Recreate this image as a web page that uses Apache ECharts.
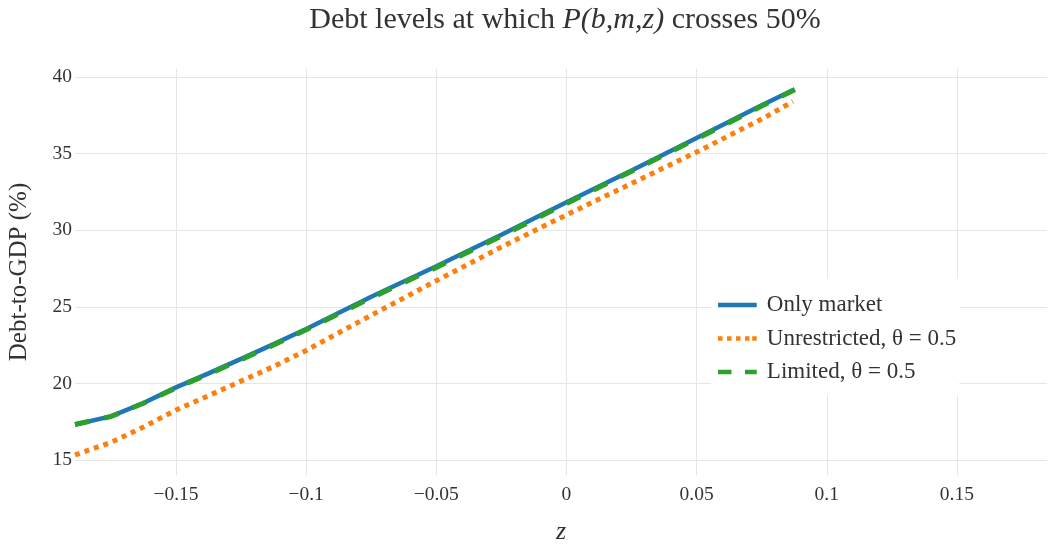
<!DOCTYPE html>
<html>
<head>
<meta charset="utf-8">
<script src="https://cdn.jsdelivr.net/npm/echarts@6/dist/echarts.min.js"></script>
<style>
  html, body { margin: 0; padding: 0; background: #fff; }
  #chart { width: 1049px; height: 544px; }
</style>
</head>
<body>
<div id="chart"></div>
<script>
// z values and debt-to-GDP levels (%)
const zOnlyMarket = [-0.1888, -0.175, -0.1625, -0.15, -0.1375, -0.125, -0.1125, -0.1, -0.075, -0.05, -0.025, 0, 0.025, 0.05, 0.075, 0.0877];
const onlyMarket = [17.32, 17.85, 18.72, 19.74, 20.65, 21.6, 22.56, 23.55, 25.65, 27.65, 29.7, 31.82, 33.9, 36.02, 38.15, 39.2];

const zUnrestricted = [-0.1888, -0.175, -0.1625, -0.15, -0.1375, -0.125, -0.1125, -0.1, -0.075, -0.05, -0.025, 0, 0.025, 0.05, 0.075, 0.087];
const unrestricted = [15.33, 16.15, 17.15, 18.26, 19.2, 20.15, 21.1, 22.15, 24.45, 26.7, 28.9, 31.0, 33.05, 35.1, 37.25, 38.4];

const zLimited = [-0.1888, -0.175, -0.1625, -0.15, -0.1375, -0.125, -0.1125, -0.1, -0.075, -0.05, -0.025, 0, 0.025, 0.05, 0.075, 0.0877];
const limited = [17.32, 17.84, 18.7, 19.7, 20.6, 21.55, 22.5, 23.5, 25.58, 27.57, 29.62, 31.74, 33.84, 35.96, 38.1, 39.17];

const names = ['Only market', 'Unrestricted, θ = 0.5', 'Limited, θ = 0.5'];

const font = 'Liberation Serif';
const textColor = '#333';
const gridColor = '#e6e6e6';

// legend swatches: solid, dotted, dashed strokes
const iconSolid = 'path://M0,0h43v5h-43z';
const iconDot = 'path://M0,0h5v5h-5zM10,0h5v5h-5zM20,0h5v5h-5zM30,0h5v5h-5zM38,0h5v5h-5z';
const iconDash = 'path://M0,0h15v5h-15zM30,0h13v5h-13z';

function pairs(xs, ys) {
  return xs.map((x, i) => [x, ys[i]]);
}

let chart = echarts.init(document.getElementById('chart'));
chart.setOption({
  animation: false,
  textStyle: { fontFamily: font, color: textColor },
  title: {
    text: 'Debt levels at which {i|P(b,m,z)} crosses 50%',
    left: 565,
    top: 5,
    padding: 0,
    textAlign: 'center',
    textStyle: {
      fontFamily: font,
      fontSize: 30,
      fontWeight: 'normal',
      color: textColor,
      rich: {
        i: { fontFamily: font, fontSize: 30, fontStyle: 'italic', color: textColor }
      }
    }
  },
  grid: { left: 75, right: 2, top: 69, bottom: 69, outerBoundsMode: 'none' },
  legend: {
    data: [
      { name: names[0], icon: iconSolid },
      { name: names[1], icon: iconDot },
      { name: names[2], icon: iconDash }
    ],
    orient: 'vertical',
    left: 711,
    top: 278,
    padding: [15, 3, 11, 7],
    backgroundColor: '#fff',
    itemWidth: 43,
    itemHeight: 4.5,
    itemGap: 9.5,
    textStyle: { fontFamily: font, fontSize: 23, color: textColor, lineHeight: 24, padding: [0, 0, 0, 3] }
  },
  xAxis: {
    type: 'value',
    min: -0.1888,
    max: 0.1846,
    splitNumber: 7,
    name: 'z',
    nameLocation: 'middle',
    nameGap: 44,
    nameTextStyle: { fontFamily: font, fontSize: 26, fontStyle: 'italic', color: textColor },
    axisLine: { show: false },
    axisTick: { show: false },
    axisLabel: {
      fontSize: 19.5,
      color: textColor,
      margin: 10,
      showMinLabel: false,
      showMaxLabel: false,
      formatter: v => String(+v.toFixed(2)).replace('-', '\u2212')
    },
    splitLine: { show: true, showMinLine: false, showMaxLine: false, lineStyle: { color: gridColor, width: 1 } }
  },
  yAxis: {
    type: 'value',
    min: 14.02,
    max: 40.52,
    splitNumber: 5,
    name: 'Debt-to-GDP (%)',
    nameLocation: 'middle',
    nameGap: 43,
    nameTextStyle: { fontFamily: font, fontSize: 25, color: textColor },
    axisLine: { show: false },
    axisTick: { show: false },
    axisLabel: {
      fontSize: 19.5,
      color: textColor,
      margin: 3,
      showMinLabel: false,
      showMaxLabel: false
    },
    splitLine: { show: true, showMinLine: false, showMaxLine: false, lineStyle: { color: gridColor, width: 1 } }
  },
  series: [
    {
      name: names[0],
      type: 'line',
      data: pairs(zOnlyMarket, onlyMarket),
      symbol: 'none',
      color: '#1f77b4',
      lineStyle: { color: '#1f77b4', width: 4.5, cap: 'butt' },
      z: 2
    },
    {
      name: names[1],
      type: 'line',
      data: pairs(zUnrestricted, unrestricted),
      symbol: 'none',
      color: '#ff7f0e',
      lineStyle: { color: '#ff7f0e', width: 5, type: [5, 5], cap: 'butt' },
      z: 3
    },
    {
      name: names[2],
      type: 'line',
      data: pairs(zLimited, limited),
      symbol: 'none',
      color: '#2ca02c',
      lineStyle: { color: '#2ca02c', width: 5, type: [15, 15], cap: 'butt' },
      z: 4
    }
  ]
});
</script>
</body>
</html>
